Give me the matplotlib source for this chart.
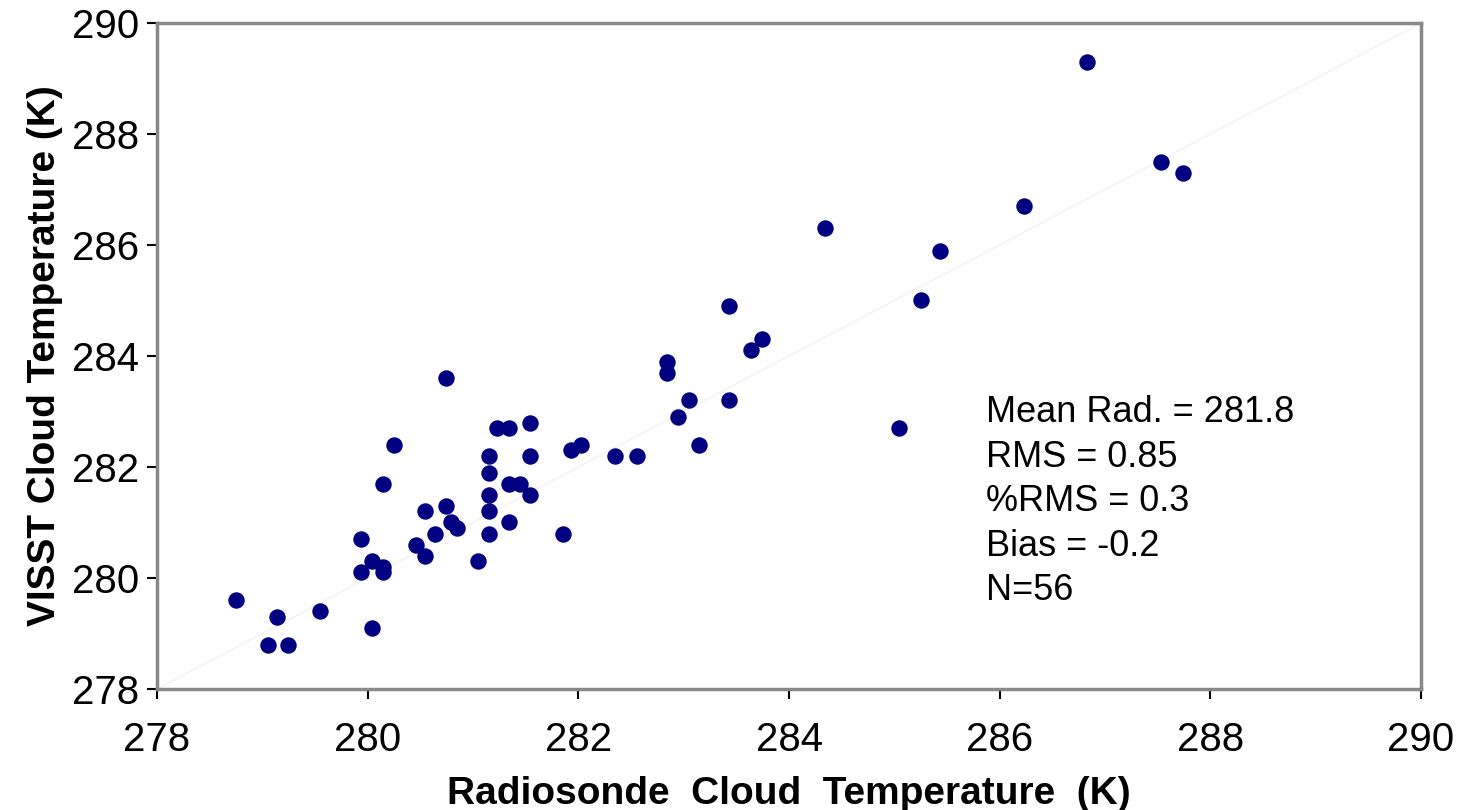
import matplotlib
matplotlib.use('Agg')
import matplotlib.pyplot as plt

# radiosonde (x) vs VISST (y) cloud temperatures, K
rad_temp = [278.75, 279.14, 279.05, 279.24, 279.55, 280.04, 279.94, 279.94,
            280.04, 280.15, 280.15, 280.15, 280.25, 280.46, 280.54, 280.54,
            280.64, 280.74, 280.74, 280.79, 280.85, 281.05, 281.15, 281.15,
            281.15, 281.15, 281.15, 281.23, 281.34, 281.34, 281.34, 281.45,
            281.54, 281.54, 281.54, 281.85, 281.93, 282.03, 282.35, 282.56,
            282.84, 282.84, 283.05, 282.95, 283.15, 283.43, 283.43, 283.64,
            283.74, 284.34, 285.04, 285.25, 285.43, 286.23, 286.83, 287.53,
            287.74]
visst_temp = [279.6, 279.3, 278.8, 278.8, 279.4, 279.1, 280.1, 280.7,
              280.3, 280.2, 280.1, 281.7, 282.4, 280.6, 280.4, 281.2,
              280.8, 281.3, 283.6, 281.0, 280.9, 280.3, 280.8, 281.2,
              281.5, 281.9, 282.2, 282.7, 282.7, 281.7, 281.0, 281.7,
              281.5, 282.2, 282.8, 280.8, 282.3, 282.4, 282.2, 282.2,
              283.9, 283.7, 283.2, 282.9, 282.4, 283.2, 284.9, 284.1,
              284.3, 286.3, 282.7, 285.0, 285.9, 286.7, 289.3, 287.5,
              287.3]
ticks = [278, 280, 282, 284, 286, 288, 290]
stats_lines = ['Mean Rad. = 281.8', 'RMS = 0.85', '%RMS = 0.3',
               'Bias = -0.2', 'N=56']

plt.rcParams['font.family'] = ['Liberation Sans', 'DejaVu Sans']

fig = plt.figure(figsize=(14.61, 8.10), dpi=100)
ax = fig.add_axes([157 / 1461, 1 - 689 / 810, 1264 / 1461, 666 / 810])

# faint 1:1 line
ax.plot([278, 290], [278, 290], color='#f2f2f2', lw=1, zorder=1)
ax.scatter(rad_temp, visst_temp, s=140, color='#000080', zorder=3,
           linewidths=0)

ax.set_xlim(278, 290)
ax.set_ylim(278, 290)
ax.set_xticks(ticks)
ax.set_yticks(ticks)
ax.tick_params(axis='both', which='both', labelsize=29, direction='out',
               length=7, width=1.5, color='black')
ax.tick_params(axis='x', pad=16)
ax.tick_params(axis='y', pad=6)
for sp in ax.spines.values():
    sp.set_color('#888888')
    sp.set_linewidth(2.5)

ax.set_xlabel('Radiosonde  Cloud  Temperature  (K)', fontsize=28,
              fontweight='bold', labelpad=12)
ax.set_ylabel('VISST Cloud Temperature (K)', fontsize=28,
              fontweight='bold', labelpad=6)

ax.text(0.656, 0.441, '\n'.join(stats_lines), transform=ax.transAxes,
        fontsize=26, va='top', ha='left', linespacing=1.35)

fig.savefig('out.png', dpi=100)
